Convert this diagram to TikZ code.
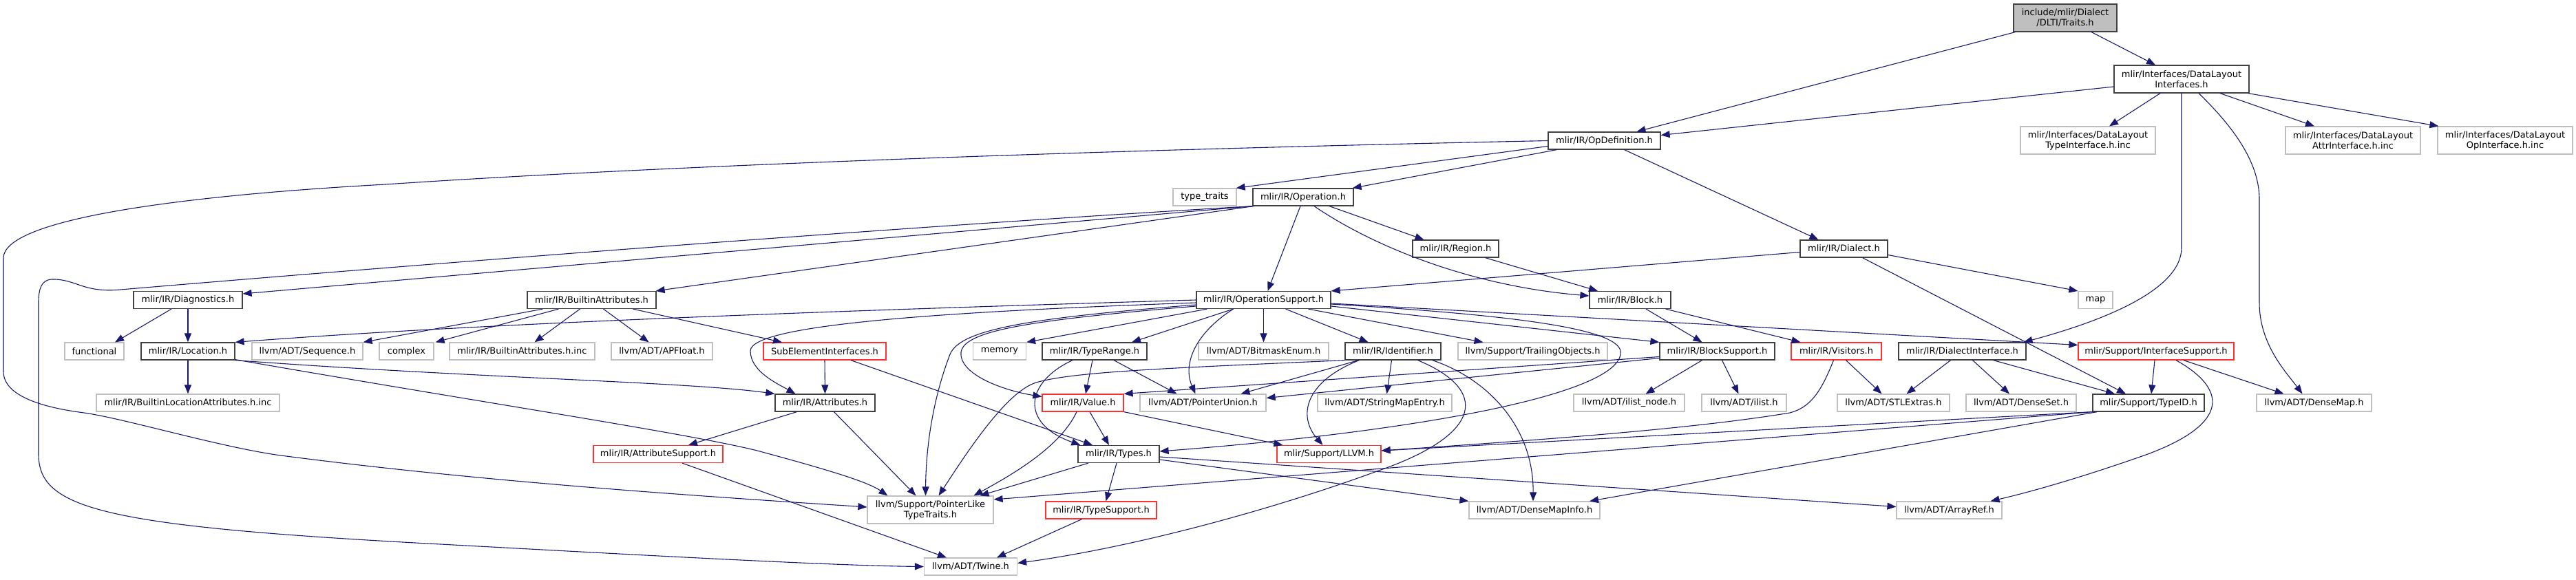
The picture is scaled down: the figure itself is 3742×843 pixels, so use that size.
\documentclass[tikz,border=0pt]{standalone}
\usepackage{fontspec}
\setmainfont{DejaVu Sans}
\usetikzlibrary{arrows.meta}
\definecolor{edgeblue}{HTML}{191970}
\definecolor{docborder}{HTML}{404040}
\definecolor{extborder}{HTML}{BFBFBF}
\definecolor{truncborder}{HTML}{FF3030}
\definecolor{rootfill}{HTML}{BFBFBF}
\tikzset{
  basebox/.style={rectangle, draw, fill=white, inner sep=0pt, minimum height=25pt, align=center,
    font=\fontsize{13}{15}\selectfont, line width=1.2pt, text=black},
  docbox/.style={basebox, draw=docborder},
  extbox/.style={basebox, draw=extborder},
  truncbox/.style={basebox, draw=truncborder},
  dep/.style={draw=edgeblue, line width=1.1pt, -{Triangle[length=13pt,width=10pt]}},
}
\begin{document}
\begin{tikzpicture}[x=1pt,y=-1pt]
\useasboundingbox (0,0) rectangle (3742,843);

% rank 0-2
\node[docbox, fill=rootfill, minimum width=150pt, minimum height=40pt] (traits) at (3000,26) {include/mlir/Dialect\\/DLTI/Traits.h};
\node[docbox, minimum width=196pt, minimum height=40pt] (dli) at (3169,115) {mlir/Interfaces/DataLayout\\Interfaces.h};
\node[docbox, minimum width=163pt] (opdef) at (2330.5,204.5) {mlir/IR/OpDefinition.h};
\node[extbox, minimum width=196pt, minimum height=40pt] (typeinc) at (3033,204) {mlir/Interfaces/DataLayout\\TypeInterface.h.inc};
\node[extbox, minimum width=196pt, minimum height=40pt] (attrinc) at (3418,204) {mlir/Interfaces/DataLayout\\AttrInterface.h.inc};
\node[extbox, minimum width=196pt, minimum height=40pt] (opinc) at (3639,204) {mlir/Interfaces/DataLayout\\OpInterface.h.inc};
\node[extbox, minimum width=92pt] (typetraits) at (1750,286.5) {type\_traits};
\node[docbox, minimum width=146pt] (operation) at (1893,286.5) {mlir/IR/Operation.h};
\node[docbox, minimum width=125pt] (region) at (2114.5,361.5) {mlir/IR/Region.h};
\node[docbox, minimum width=127pt] (dialect) at (2678.5,361.5) {mlir/IR/Dialect.h};

% rank 436
\node[docbox, minimum width=158pt] (diagnostics) at (273,436) {mlir/IR/Diagnostics.h};
\node[docbox, minimum width=187pt] (builtinattrs) at (859.5,436) {mlir/IR/BuiltinAttributes.h};
\node[docbox, minimum width=195pt] (opsupport) at (1835.5,436) {mlir/IR/OperationSupport.h};
\node[docbox, minimum width=118pt] (block) at (2368,436) {mlir/IR/Block.h};
\node[extbox, minimum width=50pt] (map) at (3044,436) {map};

% rank 510.5
\node[extbox, minimum width=86pt] (functional) at (137,510.5) {functional};
\node[docbox, minimum width=136pt] (location) at (273,510.5) {mlir/IR/Location.h};
\node[extbox, minimum width=161pt] (sequence) at (446.5,510.5) {llvm/ADT/Sequence.h};
\node[extbox, minimum width=79pt] (complex) at (590.5,510.5) {complex};
\node[extbox, minimum width=211pt] (builtinattrsinc) at (758.5,510.5) {mlir/IR/BuiltinAttributes.h.inc};
\node[extbox, minimum width=147pt] (apfloat) at (961.5,510.5) {llvm/ADT/APFloat.h};
\node[truncbox, minimum width=178pt] (subelement) at (1198,510.5) {SubElementInterfaces.h};
\node[extbox, minimum width=77pt] (memory) at (1452,510.5) {memory};
\node[docbox, minimum width=152pt] (typerange) at (1590,510.5) {mlir/IR/TypeRange.h};
\node[extbox, minimum width=189pt] (bitmask) at (1835.5,510.5) {llvm/ADT/BitmaskEnum.h};
\node[docbox, minimum width=139pt] (identifier) at (2023.5,510.5) {mlir/IR/Identifier.h};
\node[extbox, minimum width=217pt] (trailing) at (2226.5,510.5) {llvm/Support/TrailingObjects.h};
\node[docbox, minimum width=167pt] (blocksupport) at (2494.5,510.5) {mlir/IR/BlockSupport.h};
\node[truncbox, minimum width=131pt] (visitors) at (2667.5,510.5) {mlir/IR/Visitors.h};
\node[docbox, minimum width=185pt] (dialectiface) at (2850.5,510.5) {mlir/IR/DialectInterface.h};
\node[truncbox, minimum width=226pt] (interfacesupport) at (3132,510.5) {mlir/Support/InterfaceSupport.h};

% rank 585.5
\node[extbox, minimum width=266pt] (builtinlocinc) at (273,585.5) {mlir/IR/BuiltinLocationAttributes.h.inc};
\node[docbox, minimum width=145pt] (attributes) at (1198.5,585.5) {mlir/IR/Attributes.h};
\node[truncbox, minimum width=118pt] (value) at (1573,585.5) {mlir/IR/Value.h};
\node[extbox, minimum width=183pt] (pointerunion) at (1747.5,585.5) {llvm/ADT/PointerUnion.h};
\node[extbox, minimum width=195pt] (stringmapentry) at (2011.5,585.5) {llvm/ADT/StringMapEntry.h};
\node[extbox, minimum width=161pt] (ilistnode) at (2366.5,585.5) {llvm/ADT/ilist\_node.h};
\node[extbox, minimum width=123pt] (ilist) at (2533.5,585.5) {llvm/ADT/ilist.h};
\node[extbox, minimum width=163pt] (stlextras) at (2750.5,585.5) {llvm/ADT/STLExtras.h};
\node[extbox, minimum width=160pt] (denseset) at (2936,585.5) {llvm/ADT/DenseSet.h};
\node[docbox, minimum width=162pt] (typeid) at (3121,585.5) {mlir/Support/TypeID.h};
\node[extbox, minimum width=167pt] (densemap) at (3361.5,585.5) {llvm/ADT/DenseMap.h};

% rank 660
\node[truncbox, minimum width=188pt] (attributesupport) at (956,660) {mlir/IR/AttributeSupport.h};
\node[docbox, minimum width=118pt] (types) at (1625,660) {mlir/IR/Types.h};
\node[truncbox, minimum width=151pt] (llvm) at (1930.5,660) {mlir/Support/LLVM.h};

% rank 741
\node[extbox, minimum width=183pt, minimum height=40pt] (pointerlike) at (1351.5,741) {llvm/Support/PointerLike\\TypeTraits.h};
\node[truncbox, minimum width=161pt] (typesupport) at (1599.5,741.5) {mlir/IR/TypeSupport.h};
\node[extbox, minimum width=190pt] (densemapinfo) at (2229,741.5) {llvm/ADT/DenseMapInfo.h};
\node[extbox, minimum width=153pt] (arrayref) at (2831.5,741.5) {llvm/ADT/ArrayRef.h};
\node[extbox, minimum width=135pt] (twine) at (1410,823.5) {llvm/ADT/Twine.h};

% edges
\draw[dep] ([xshift=3pt]traits.south west) -- ([xshift=47pt]opdef.north);
\draw[dep] ([xshift=38pt]traits.south) -- ([xshift=-38pt]dli.north);
\draw[dep] ([yshift=-11pt]dli.west) -- ([yshift=8pt]opdef.east);
\draw[dep] ([xshift=-31pt]dli.south) -- ([xshift=31pt]typeinc.north);
\draw[dep] ([xshift=56pt]dli.south) -- ([xshift=-56pt]attrinc.north);
\draw[dep] ([xshift=-2pt]dli.south east) -- ([xshift=2pt]opinc.north west);
\draw[dep] (dli.south) -- (3169,360) .. controls (3169,420) and (3060,465) .. ([xshift=89pt]dialectiface.north);
\draw[dep] ([xshift=25pt]dli.south) .. controls (3250,190) and (3282,240) .. (3282,290) -- (3282,440) .. controls (3282,500) and (3320,540) .. ([xshift=-17pt]densemap.north);

\draw[dep] ([yshift=-8pt]opdef.west) -- ([xshift=-1pt]typetraits.north east);
\draw[dep] ([xshift=13pt]opdef.south west) -- ([xshift=-2pt]operation.north east);
\draw[dep] ([xshift=29pt]opdef.south) -- ([xshift=-37pt]dialect.north);
\draw[dep] (opdef.west) .. controls (1500,220) and (900,245) .. (560,268) .. controls (250,285) and (5,320) .. (5,375) -- (5,540) .. controls (5,575) and (60,592) .. (122,600) .. controls (180,608) and (320,650) .. (408,662) .. controls (700,700) and (1000,720) .. ([yshift=4pt]pointerlike.west);

\draw[dep] (operation.south west) -- ([yshift=9pt]diagnostics.east);
\draw[dep] ([xshift=2pt]operation.south west) -- ([xshift=-1pt]builtinattrs.north east);
\draw[dep] ([xshift=-4pt]operation.south) -- ([xshift=6pt]opsupport.north);
\draw[dep] ([xshift=38pt]operation.south) -- ([xshift=-46pt]region.north);
\draw[dep] ([xshift=16pt]operation.south) .. controls (1990,355) and (2130,415) .. ([yshift=6pt]block.west);
\draw[dep] ([xshift=1pt]operation.south west) .. controls (1300,330) and (600,385) .. (175,421) .. controls (120,426) and (110,405) .. (75,406) .. controls (60,407) and (56,420) .. (56,440) -- (56,660) .. controls (56,740) and (150,765) .. (640,791) .. controls (900,805) and (1200,822) .. (twine.west);

\draw[dep] ([xshift=43pt]region.south) -- ([xshift=-47pt]block.north);
\draw[dep] ([yshift=-5pt]dialect.west) -- (opsupport.north east);
\draw[dep] ([yshift=-9pt]dialect.east) -- (map.north west);
\draw[dep] ([xshift=27pt]dialect.south) -- ([xshift=-33pt]typeid.north);

\draw[dep] ([xshift=-24pt]diagnostics.south) -- ([xshift=30pt]functional.north);
\draw[dep] (diagnostics.south) -- (location.north);
\draw[dep] (location.south) -- (builtinlocinc.north);
\draw[dep] (location.south east) .. controls (700,550) and (1000,555) .. (attributes.north west);
\draw[dep] ([yshift=1pt]location.south east) .. controls (700,585) and (1000,630) .. (1100,655) .. controls (1200,682) and (1260,700) .. ([xshift=-62pt]pointerlike.north);

\draw[dep] ([xshift=23pt]builtinattrs.south west) -- (sequence.north east);
\draw[dep] ([xshift=46pt]builtinattrs.south west) -- ([xshift=2pt]complex.north east);
\draw[dep] ([xshift=-17pt]builtinattrs.south) -- ([xshift=18pt]builtinattrsinc.north);
\draw[dep] ([xshift=17pt]builtinattrs.south) -- ([xshift=-19pt]apfloat.north);
\draw[dep] ([xshift=60pt]builtinattrs.south) -- ([xshift=-62pt]subelement.north);

\draw[dep] (opsupport.west) .. controls (1200,452) and (700,470) .. (location.north east);
\draw[dep] ([yshift=-4pt]opsupport.west) .. controls (1400,452) and (1090,470) .. (1090,510) .. controls (1090,540) and (1130,558) .. ([xshift=-43pt]attributes.north);
\draw[dep] ([yshift=-7pt]opsupport.west) .. controls (1500,462) and (1395,478) .. (1380,515) .. controls (1355,580) and (1345,650) .. ([xshift=-7pt]pointerlike.north);
\draw[dep] ([yshift=-9pt]opsupport.west) .. controls (1500,465) and (1400,480) .. (1396,512) .. controls (1393,545) and (1460,568) .. ([yshift=9pt]value.west);
\draw[dep] ([xshift=16pt]opsupport.south west) -- (memory.north east);
\draw[dep] ([xshift=-44pt]opsupport.south) -- ([xshift=54pt]typerange.north);
\draw[dep] ([xshift=-44pt]opsupport.south) .. controls (1735,485) and (1718,530) .. ([xshift=-11pt]pointerunion.north);
\draw[dep] (opsupport.south) -- (bitmask.north);
\draw[dep] ([xshift=32pt]opsupport.south) -- ([xshift=-36pt]identifier.north);
\draw[dep] ([xshift=65pt]opsupport.south) -- ([xshift=-72pt]trailing.north);
\draw[dep] ([yshift=-9pt]opsupport.east) -- (blocksupport.north west);
\draw[dep] ([yshift=-5pt]opsupport.east) -- ([yshift=9pt]interfacesupport.west);
\draw[dep] ([yshift=-6pt]opsupport.east) .. controls (2200,458) and (2362,478) .. (2354,515) .. controls (2345,575) and (2050,628) .. ([yshift=4pt]types.east);

\draw[dep] ([xshift=23pt]block.south) -- ([xshift=-22pt]blocksupport.north);
\draw[dep] ([xshift=-8pt]block.south east) -- ([xshift=-52pt]visitors.north);

\draw[dep] (subelement.south) -- (attributes.north);
\draw[dep] ([xshift=38pt]subelement.south) -- ([xshift=-38pt]types.north);
\draw[dep] ([xshift=-41pt]attributes.south) -- ([xshift=44pt]attributesupport.north);
\draw[dep] ([xshift=13pt]attributes.south) -- ([xshift=-21pt]pointerlike.north);
\draw[dep] ([xshift=35pt]attributesupport.south) -- ([xshift=-35pt]twine.north);

\draw[dep] ([xshift=-3pt]typerange.south) -- ([xshift=4pt]value.north);
\draw[dep] ([xshift=28pt]typerange.south) -- ([xshift=-38pt]pointerunion.north);
\draw[dep] ([xshift=-32pt]typerange.south) .. controls (1490,555) and (1480,615) .. ([xshift=4pt]types.north west);

\draw[dep] ([xshift=10pt]value.south) -- ([xshift=-14pt]types.north);
\draw[dep] ([xshift=-9pt]value.south) .. controls (1540,650) and (1470,690) .. ([xshift=63pt]pointerlike.north);
\draw[dep] (value.south east) -- ([xshift=9pt]llvm.north west);

\draw[dep] ([xshift=20pt]identifier.south west) -- ([xshift=55pt]pointerunion.north);
\draw[dep] ([xshift=-2pt]identifier.south) -- ([xshift=3pt]stringmapentry.north);
\draw[dep] ([xshift=21pt]identifier.south west) .. controls (1895,555) and (1885,605) .. ([xshift=-9pt]llvm.north);
\draw[dep] ([xshift=-13pt]identifier.south east) .. controls (2160,550) and (2228,620) .. ([xshift=-2pt]densemapinfo.north);
\draw[dep] ([xshift=36pt]identifier.south) .. controls (2160,565) and (2160,630) .. (2000,685) .. controls (1850,740) and (1650,795) .. ([yshift=5pt]twine.east);
\draw[dep] (identifier.south west) .. controls (1700,535) and (1560,540) .. (1505,556) .. controls (1460,570) and (1400,665) .. ([xshift=12pt]pointerlike.north);

\draw[dep] ([yshift=-8pt]blocksupport.west) -- (value.north east);
\draw[dep] ([yshift=-10pt]blocksupport.west) -- ([yshift=7pt]pointerunion.east);
\draw[dep] ([xshift=-22pt]blocksupport.south) -- ([xshift=24pt]ilistnode.north);
\draw[dep] ([xshift=7pt]blocksupport.south) -- ([xshift=-8pt]ilist.north);

\draw[dep] ([xshift=14pt]visitors.south) -- ([xshift=-17pt]stlextras.north);
\draw[dep] ([xshift=-4pt]visitors.south) .. controls (2645,570) and (2630,592) .. (2600,600) .. controls (2450,625) and (2200,642) .. ([yshift=5pt]llvm.east);

\draw[dep] ([xshift=-17pt]dialectiface.south) -- ([xshift=19pt]stlextras.north);
\draw[dep] ([xshift=15pt]dialectiface.south) -- ([xshift=-17pt]denseset.north);
\draw[dep] ([xshift=45pt]dialectiface.south) -- ([xshift=-49pt]typeid.north);

\draw[dep] ([xshift=-2pt]interfacesupport.south) -- ([xshift=4pt]typeid.north);
\draw[dep] ([xshift=40pt]interfacesupport.south) -- ([xshift=-44pt]densemap.north);
\draw[dep] ([xshift=29pt]interfacesupport.south) .. controls (3235,565) and (3240,615) .. (3120,660) .. controls (3030,692) and (2950,715) .. ([xshift=60pt]arrayref.north);

\draw[dep] (typeid.south west) -- ([yshift=5pt]llvm.east);
\draw[dep] ([xshift=7pt]typeid.south west) -- ([xshift=80pt]densemapinfo.north);
\draw[dep] ([xshift=1pt]typeid.south west) -- ([yshift=15pt]pointerlike.east);

\draw[dep] ([xshift=-44pt]types.south) -- ([xshift=72pt]pointerlike.north);
\draw[dep] ([xshift=-3pt]types.south) -- ([xshift=7pt]typesupport.north);
\draw[dep] ([yshift=-8pt]types.east) -- (densemapinfo.north west);
\draw[dep] ([yshift=-4pt]types.east) -- ([yshift=5pt]arrayref.west);
\draw[dep] ([xshift=-28pt]typesupport.south) -- ([xshift=38pt]twine.north);
\end{tikzpicture}
\end{document}
